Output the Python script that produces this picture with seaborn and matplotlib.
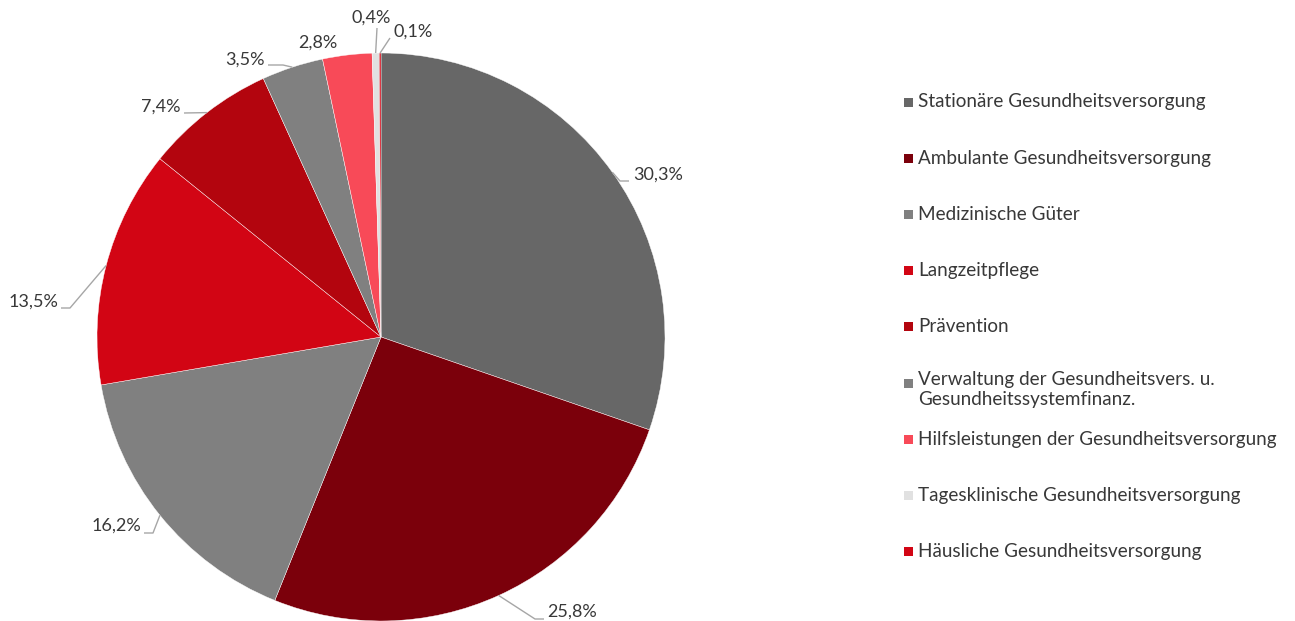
import numpy as np
import matplotlib
matplotlib.use("Agg")
import matplotlib.pyplot as plt
import seaborn as sns
from matplotlib.patches import Rectangle

sns.set_theme(style="white")
plt.rcParams['font.family'] = ['Lato', 'DejaVu Sans']

# ---- data ----
categories = [
    "Stationäre Gesundheitsversorgung",
    "Ambulante Gesundheitsversorgung",
    "Medizinische Güter",
    "Langzeitpflege",
    "Prävention",
    "Verwaltung der Gesundheitsvers. u.\nGesundheitssystemfinanz.",
    "Hilfsleistungen der Gesundheitsversorgung",
    "Tagesklinische Gesundheitsversorgung",
    "Häusliche Gesundheitsversorgung",
]
shares = [30.3, 25.8, 16.2, 13.5, 7.4, 3.5, 2.8, 0.4, 0.1]
share_labels = ["30,3%", "25,8%", "16,2%", "13,5%", "7,4%", "3,5%", "2,8%", "0,4%", "0,1%"]

# ---- style ----
colors = ["#676767", "#7B000B", "#808080", "#D20514", "#B3050E",
          "#808080", "#F84A58", "#E1E1E1", "#D20514"]
text_color = "#383838"
line_color = "#A6A6A6"

W, H = 1295, 621
fig = plt.figure(figsize=(W / 100, H / 100), dpi=100)
ax = fig.add_axes([0, 0, 1, 1])

cx, cy, R = 381, 621 - 337, 284
wedges, _ = ax.pie(shares, colors=colors, startangle=90, counterclock=False,
                   center=(cx, cy), radius=R,
                   wedgeprops=dict(edgecolor="white", linewidth=0.3))
ax.set_xlim(0, W)
ax.set_ylim(0, H)
ax.set_aspect("equal")
ax.axis("off")

# label layout in pixel coords (x, y from top): text anchor, elbow points, alignment
label_layout = [
    dict(text=(633, 175), ha="left", path=[(620, 181), (629, 181)]),
    dict(text=(547, 612), ha="left", path=[(535, 619), (544, 619)]),
    dict(text=(141, 526), ha="right", path=[(153, 533), (144, 533)]),
    dict(text=(58, 302), ha="right", path=[(70, 308), (61, 308)]),
    dict(text=(181, 107), ha="right", path=[(184, 113)]),
    dict(text=(265, 60), ha="right", path=[(283, 65), (268, 65)]),
    dict(text=(298, 43), ha="left", path=None),
    dict(text=(351, 18), ha="left", path=[(377, 28)]),
    dict(text=(393, 32), ha="left", path=[(390, 38)]),
]

for w, lab, lay in zip(wedges, share_labels, label_layout):
    mid = np.deg2rad((w.theta1 + w.theta2) / 2)
    ex, ey = cx + R * np.cos(mid), cy + R * np.sin(mid)
    if lay["path"]:
        xs = [ex] + [p[0] for p in lay["path"]]
        ys = [ey] + [H - p[1] for p in lay["path"]]
        ax.plot(xs, ys, color=line_color, lw=1.0, solid_capstyle="butt")
    tx, ty = lay["text"]
    ax.text(tx, H - ty, lab, ha=lay["ha"], va="center", fontsize=13,
            color=text_color)

# legend
leg_x_box, leg_x_text = 904, 918
leg_y0, leg_dy, box = 102, 56.2, 9
for i, (cat, col) in enumerate(zip(categories, colors)):
    y = leg_y0 + i * leg_dy
    ax.add_patch(Rectangle((leg_x_box, H - y - box / 2), box, box,
                           facecolor=col, edgecolor="none"))
    ax.text(leg_x_text, H - y + 12 if "\n" in cat else H - y, cat,
            ha="left", va="top" if "\n" in cat else "center",
            fontsize=13.6, color=text_color, linespacing=1.2)

fig.savefig("out.png", dpi=100, facecolor="white")
